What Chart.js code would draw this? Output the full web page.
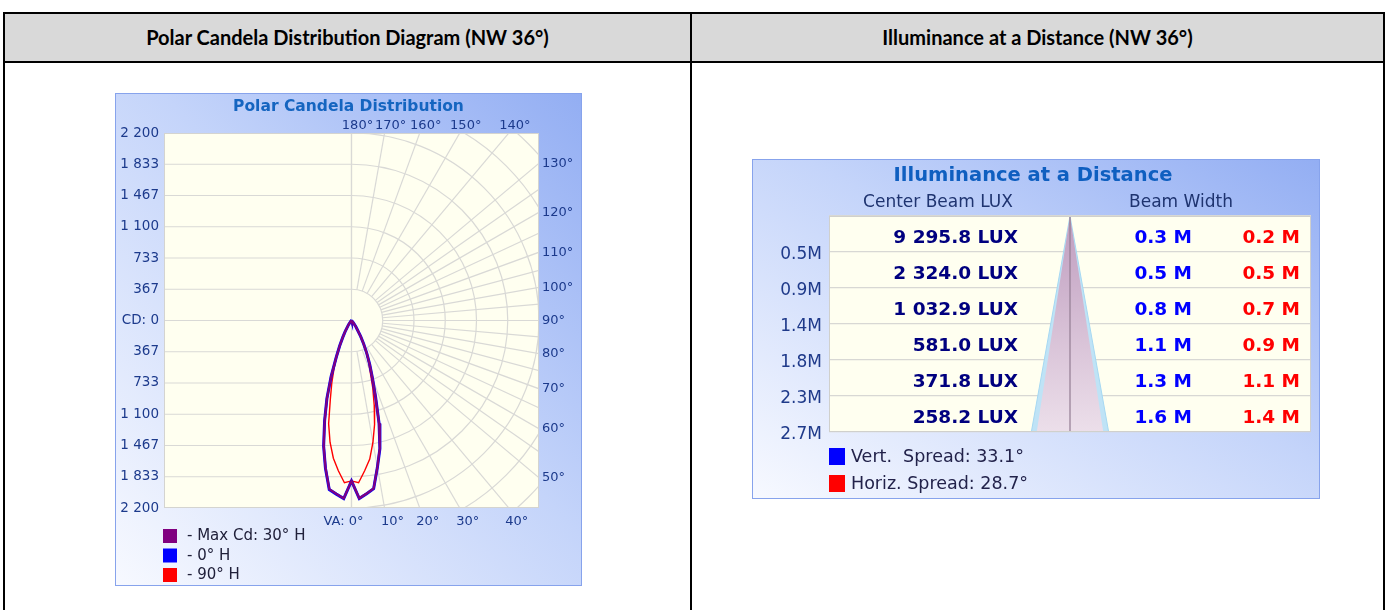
<!DOCTYPE html>
<html>
<head>
<meta charset="utf-8">
<script src="https://cdn.jsdelivr.net/npm/chart.js@4.4.1/dist/chart.umd.min.js"></script>
<style>
  html, body { margin:0; padding:0; width:1387px; height:610px; overflow:hidden; background:#fff; }
  .frame { position:absolute; left:3px; top:12px; width:1378px; height:650px; border:2px solid #000; }
  .hdr { position:absolute; left:0; top:0; width:1378px; height:47px; background:#d9d9d9; border-bottom:2px solid #000; }
  .sep { position:absolute; left:685px; top:0; width:2px; height:650px; background:#000; }
  .htxt { position:absolute; top:0; height:47px; line-height:47px; text-align:center; font-family:Lato, 'Open Sans', sans-serif; font-weight:700; font-size:20px; color:#000; }
  .panel { position:absolute; border:1px solid #87a3ec; background:linear-gradient(to bottom left, #93aef3 0%, #c4d4fa 45%, #f7f9ff 100%); }
  canvas { display:block; }
</style>
</head>
<body>
<div class="frame">
  <div class="hdr"></div>
  <div class="sep"></div>
  <div class="htxt" style="left:0;width:685px;">Polar Candela Distribution Diagram (NW 36°)</div>
  <div class="htxt" style="left:687px;width:691px;">Illuminance at a Distance (NW 36°)</div>
</div>
<div class="panel" style="left:115px;top:93px;width:465px;height:491px;"><canvas id="polar" width="465" height="491"></canvas></div>
<div class="panel" style="left:752px;top:159px;width:566px;height:338px;"><canvas id="illum" width="566" height="338"></canvas></div>

<script>
// ================= DATA =================
// Polar candela distribution (vertical angle in degrees, candela per plane)
const vertAngles = [0,2.5,5,7.5,10,12.5,15,17.5,20,22.5,25,27.5,30,35,40,45,50,60,70,80,90];
const cd0H   = [1882,2091,2040,1991,1750,1540,1250,940,720,560,425,310,215,90,35,12,4,0,0,0,0];
const cd180H = [1882,2092,2045,2000,1760,1511,1220,960,700,470,330,220,150,60,20,6,2,0,0,0,0];
const cd30H  = [1882,2088,2038,1988,1748,1535,1248,938,718,558,423,308,213,89,34,11,3,0,0,0,0];
const cd210H = [1882,2089,2042,1996,1756,1508,1218,958,698,468,328,218,148,59,19,5,2,0,0,0,0];
const cd90H  = [1882,1906,1770,1640,1450,1250,1030,830,640,520,400,295,205,85,30,10,3,0,0,0,0];
const cd270H = [1882,1906,1770,1630,1450,1240,960,770,600,450,320,215,148,58,19,5,2,0,0,0,0];
const cdMax = 2200;
const cdTickValues = [-2200,-1833.3,-1466.7,-1100,-733.3,-366.7,0,366.7,733.3,1100,1466.7,1833.3,2200];
const cdTickLabels = ['2 200','1 833','1 467','1 100','733','367','CD: 0','367','733','1 100','1 467','1 833','2 200'];
const topAngleTicks = [180,170,160,150,140];
const rightAngleTicks = [130,120,110,100,90,80,70,60,50];
const bottomAngleTicks = [0,10,20,30,40];
const polarGridAngles = [0,10,20,30,40,50,55,60,65,70,75,80,85,90,95,100,105,110,115,120,125,130,140,150,160,170,180];
const polarSeriesNames = ['- Max Cd: 30° H','- 0° H','- 90° H'];

// Illuminance at a distance
const distances = [0.45,0.9,1.35,1.8,2.25,2.7];
const distanceLabels = ['0.5M','0.9M','1.4M','1.8M','2.3M','2.7M'];
const centerBeamLux = [9295.8,2324.0,1032.9,581.0,371.8,258.2];
const vertBeamWidth = [0.3,0.5,0.8,1.1,1.3,1.6];
const horizBeamWidth = [0.2,0.5,0.7,0.9,1.1,1.4];
const vertSpreadDeg = 33.1;
const horizSpreadDeg = 28.7;

// ================= STYLE =================
const polarColors = ['#800080','#0000ff','#ff0000'];
const FONT = "'DejaVu Sans', Verdana, sans-serif";
Chart.defaults.font.family = FONT;

// ================= POLAR CHART =================
const rad = d => d * Math.PI / 180;
function planePoints(rightCd, leftCd) {
  const pts = [];
  for (let i = vertAngles.length - 1; i >= 0; i--) {
    const a = rad(vertAngles[i]);
    pts.push({x: rightCd[i] * Math.sin(a), y: -rightCd[i] * Math.cos(a)});
  }
  for (let i = 1; i < vertAngles.length; i++) {
    const a = rad(vertAngles[i]);
    pts.push({x: -leftCd[i] * Math.sin(a), y: -leftCd[i] * Math.cos(a)});
  }
  return pts;
}
function edgeHit(ca, cx, cy, deg) {
  const a = rad(deg), dx = Math.sin(a), dy = Math.cos(a);
  let t = Infinity;
  if (dx > 1e-9) t = Math.min(t, (ca.right - cx) / dx);
  if (dx < -1e-9) t = Math.min(t, (ca.left - cx) / dx);
  if (dy > 1e-9) t = Math.min(t, (ca.bottom - cy) / dy);
  if (dy < -1e-9) t = Math.min(t, (ca.top - cy) / dy);
  return {x: cx + dx * t, y: cy + dy * t};
}

const polarDecor = {
  id: 'polarDecor',
  beforeDraw(chart) {
    const {ctx, chartArea: ca} = chart;
    ctx.save();
    ctx.fillStyle = '#fffff0';
    ctx.fillRect(ca.left, ca.top, ca.right - ca.left, ca.bottom - ca.top);
    ctx.restore();
  },
  beforeDatasetsDraw(chart) {
    const {ctx, chartArea: ca, scales: {x, y}} = chart;
    const cx = x.getPixelForValue(0), cy = y.getPixelForValue(0);
    const step = x.getPixelForValue(cdMax / 6) - cx;
    ctx.save();
    ctx.beginPath();
    ctx.rect(ca.left, ca.top, ca.right - ca.left, ca.bottom - ca.top);
    ctx.clip();
    ctx.strokeStyle = '#d9d9d6';
    ctx.lineWidth = 1.2;
    cdTickValues.forEach(v => {
      const py = y.getPixelForValue(v);
      ctx.beginPath(); ctx.moveTo(ca.left, py); ctx.lineTo(cx, py); ctx.stroke();
    });
    ctx.beginPath(); ctx.moveTo(cx, ca.top); ctx.lineTo(cx, ca.bottom); ctx.stroke();
    for (let k = 1; k <= 9; k++) {
      ctx.beginPath(); ctx.arc(cx, cy, step * k, -Math.PI / 2, Math.PI / 2); ctx.stroke();
    }
    polarGridAngles.forEach(d => {
      const a = rad(d), dx = Math.sin(a), dy = Math.cos(a);
      ctx.beginPath();
      ctx.moveTo(cx + dx * step, cy + dy * step);
      ctx.lineTo(cx + dx * step * 12, cy + dy * step * 12);
      ctx.stroke();
    });
    ctx.restore();
    ctx.save();
    ctx.strokeStyle = '#d4d4d0';
    ctx.lineWidth = 1;
    ctx.strokeRect(ca.left + 0.5, ca.top + 0.5, ca.right - ca.left - 1, ca.bottom - ca.top - 1);
    ctx.restore();
  },
  afterDraw(chart) {
    const {ctx, chartArea: ca, scales: {x, y}} = chart;
    const cx = x.getPixelForValue(0), cy = y.getPixelForValue(0);
    ctx.save();
    ctx.fillStyle = '#1565c0';
    ctx.font = 'bold 15.5px ' + FONT;
    ctx.textAlign = 'center'; ctx.textBaseline = 'middle';
    ctx.fillText('Polar Candela Distribution', chart.width / 2, 13);
    ctx.fillStyle = '#1c3a8c';
    ctx.font = '13px ' + FONT;
    topAngleTicks.forEach(d => {
      const p = edgeHit(ca, cx, cy, d);
      ctx.textAlign = 'center';
      ctx.fillText(d + '°', p.x + 6, ca.top - 7);
    });
    rightAngleTicks.forEach(d => {
      const p = edgeHit(ca, cx, cy, d);
      ctx.textAlign = 'left';
      ctx.fillText(d + '°', ca.right + 3, p.y);
    });
    bottomAngleTicks.forEach((d, i) => {
      const p = edgeHit(ca, cx, cy, d);
      if (i === 0) { ctx.textAlign = 'right'; ctx.fillText('VA: ' + d + '°', p.x + 12, ca.bottom + 14); }
      else { ctx.textAlign = 'center'; ctx.fillText(d + '°', p.x + 8, ca.bottom + 14); }
    });
    ctx.font = '15px ' + FONT;
    ctx.textAlign = 'left';
    chart.data.datasets.forEach((ds, i) => {
      const top = ca.bottom + 21 + i * 19.5;
      ctx.fillStyle = ds.borderColor;
      ctx.fillRect(ca.left - 1, top, 14, 14);
      ctx.fillStyle = '#20203a';
      ctx.fillText(ds.label, ca.left + 23, top + 7.5);
    });
    ctx.restore();
  }
};

new Chart(document.getElementById('polar'), {
  type: 'scatter',
  data: {
    datasets: [
      {label: polarSeriesNames[0], data: planePoints(cd30H, cd210H), borderColor: polarColors[0], borderWidth: 2.2},
      {label: polarSeriesNames[1], data: planePoints(cd0H, cd180H), borderColor: polarColors[1], borderWidth: 3},
      {label: polarSeriesNames[2], data: planePoints(cd90H, cd270H), borderColor: polarColors[2], borderWidth: 1.4}
    ].map(d => Object.assign(d, {showLine: true, pointRadius: 0, fill: false, tension: 0}))
  },
  options: {
    responsive: false, animation: false, devicePixelRatio: 1,
    layout: {padding: {top: 39, bottom: 77, right: 42, left: 0}},
    plugins: {legend: {display: false}, tooltip: {enabled: false}, title: {display: false}},
    scales: {
      x: {type: 'linear', min: -cdMax, max: cdMax, display: false},
      y: {
        type: 'linear', min: -cdMax, max: cdMax, position: 'left',
        afterBuildTicks: s => { s.ticks = cdTickValues.map(v => ({value: v})); },
        afterFit: s => { s.width = 48; },
        grid: {display: false, drawTicks: false},
        border: {display: false},
        ticks: {autoSkip: false, padding: 5, color: '#1c3a8c', font: {size: 13.5},
                callback: (v, i) => cdTickLabels[i]}
      }
    }
  },
  plugins: [polarDecor]
});

// ================= ILLUMINANCE CHART =================
const maxD = distances[distances.length - 1];
function conePoints(spreadDeg) {
  const h = maxD * Math.tan(rad(spreadDeg / 2));
  return [{x: 0, y: 0}, {x: h, y: maxD}, {x: -h, y: maxD}, {x: 0, y: 0}];
}
function fmtLux(v) {
  const [i, d] = v.toFixed(1).split('.');
  return i.replace(/\B(?=(\d{3})+(?!\d))/g, ' ') + '.' + d + ' LUX';
}

const illumDecor = {
  id: 'illumDecor',
  beforeDraw(chart) {
    const {ctx, chartArea: ca} = chart;
    ctx.save();
    ctx.fillStyle = '#fffff0';
    ctx.fillRect(ca.left, ca.top, ca.right - ca.left, ca.bottom - ca.top);
    ctx.restore();
  },
  afterDraw(chart) {
    const {ctx, chartArea: ca, scales: {y}} = chart;
    ctx.save();
    ctx.strokeStyle = '#d0d0cc'; ctx.lineWidth = 1;
    ctx.strokeRect(ca.left + 0.5, ca.top + 0.5, ca.right - ca.left - 1, ca.bottom - ca.top - 1);
    ctx.textBaseline = 'middle';
    ctx.fillStyle = '#0f5fc0';
    ctx.font = 'bold 19.5px ' + FONT;
    ctx.textAlign = 'center';
    ctx.fillText('Illuminance at a Distance', chart.width / 2 - 3, 16);
    ctx.fillStyle = '#1f3470';
    ctx.font = '17px ' + FONT;
    ctx.fillText('Center Beam LUX', ca.left + 109, ca.top - 13);
    ctx.fillText('Beam Width', ca.left + 352, ca.top - 13);
    ctx.font = 'bold 18.5px ' + FONT;
    ctx.textAlign = 'right';
    distances.forEach((d, i) => {
      const yTop = y.getPixelForValue(i === 0 ? 0 : distances[i - 1]);
      const yc = (yTop + y.getPixelForValue(d)) / 2 + 4;
      ctx.fillStyle = '#00007f';
      ctx.fillText(fmtLux(centerBeamLux[i]), ca.left + 189, yc);
      ctx.fillStyle = '#0000ff';
      ctx.fillText(vertBeamWidth[i].toFixed(1) + ' M', ca.left + 363, yc);
      ctx.fillStyle = '#ff0000';
      ctx.fillText(horizBeamWidth[i].toFixed(1) + ' M', ca.right - 11, yc);
    });
    ctx.font = '17.5px ' + FONT;
    ctx.textAlign = 'left';
    [['#0000ff', 'Vert.  Spread: ' + vertSpreadDeg.toFixed(1) + '°'],
     ['#ff0000', 'Horiz. Spread: ' + horizSpreadDeg.toFixed(1) + '°']].forEach(([c, t], i) => {
      const top = ca.bottom + 16 + i * 27;
      ctx.fillStyle = c;
      ctx.fillRect(ca.left, top, 16, 17);
      ctx.fillStyle = '#22224a';
      ctx.fillText(t, ca.left + 22, top + 9);
    });
    ctx.restore();
  }
};

new Chart(document.getElementById('illum'), {
  type: 'scatter',
  data: {
    datasets: [
      {label: 'axis', data: [{x: 0, y: 0}, {x: 0, y: maxD}], borderColor: 'rgba(150,130,150,0.55)', borderWidth: 1, fill: false},
      {label: 'Horiz. Spread', data: conePoints(horizSpreadDeg), borderColor: 'rgba(0,0,0,0)', borderWidth: 0,
       fill: 'shape',
       backgroundColor: ctx => {
         const ca = ctx.chart.chartArea;
         if (!ca) return '#d8c2d6';
         const g = ctx.chart.ctx.createLinearGradient(0, ca.top, 0, ca.bottom);
         g.addColorStop(0, '#bf9dbf'); g.addColorStop(1, '#ecdfea');
         return g;
       }},
      {label: 'Vert. Spread', data: conePoints(vertSpreadDeg), borderColor: '#a6d8f2', borderWidth: 1,
       fill: 'shape', backgroundColor: '#bfe3f6'}
    ].map(d => Object.assign(d, {showLine: true, pointRadius: 0, tension: 0}))
  },
  options: {
    responsive: false, animation: false, devicePixelRatio: 1,
    layout: {padding: {top: 56, bottom: 66, right: 8, left: 0}},
    plugins: {legend: {display: false}, tooltip: {enabled: false}, title: {display: false}},
    scales: {
      x: {type: 'linear', min: -5, max: 5, display: false},
      y: {
        type: 'linear', min: 0, max: maxD, reverse: true, position: 'left',
        afterBuildTicks: s => { s.ticks = [0].concat(distances).map(v => ({value: v})); },
        afterFit: s => { s.width = 76; },
        grid: {display: true, drawTicks: false, color: '#d8d8d4', lineWidth: 1.2},
        border: {display: false},
        ticks: {autoSkip: false, padding: 7, labelOffset: 3, color: '#1f3a8a', font: {size: 17},
                callback: (v, i) => i === 0 ? '' : distanceLabels[i - 1]}
      }
    }
  },
  plugins: [illumDecor]
});
</script>
</body>
</html>
